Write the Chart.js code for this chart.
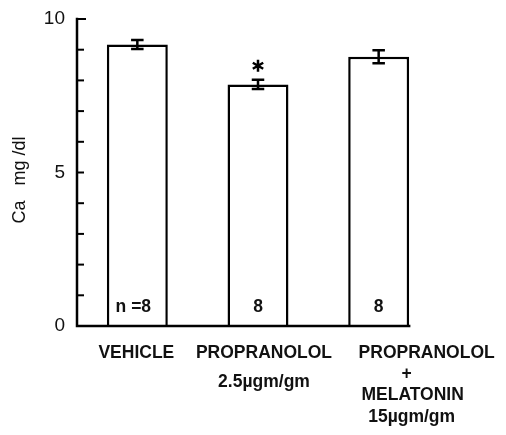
<!doctype html>
<html>
<head>
  <meta charset="utf-8" />
  <title>Ca mg/dl</title>
  <script src="https://cdn.jsdelivr.net/npm/chart.js@4.4.1/dist/chart.umd.min.js"></script>
  <style>
    html, body { margin:0; padding:0; background:#fff; }
    #wrap { width:506px; height:435px; }
  </style>
</head>
<body>
<div id="wrap"><canvas id="myChart"></canvas></div>

<script>
// data
const groups = [
  ["VEHICLE"],
  ["PROPRANOLOL", "2.5\u00b5gm/gm"],
  ["PROPRANOLOL", "+", "MELATONIN", "15\u00b5gm/gm"]
];
const caMean = [9.17, 7.87, 8.77];
const caSem  = [0.15, 0.15, 0.21];
const nLabels = ["n =8", "8", "8"];
const starred = [false, true, false];
const yTickLabels = { 0: "0", 5: "5", 10: "10" };

const ink = "#111";
const FONT = "'Liberation Sans', Arial, sans-serif";
// the typeset labels under the bars are not all centred on them
const lineNudge = [[-1], [6, 6], [48, 28, 34, 33]];
const lineStep = [21, 29, 21.3];

// axes with inward ticks, error bars, n labels, asterisk, category labels
const decor = {
  id: "decor",
  afterDatasetsDraw(chart) {
    const c = chart.ctx;
    const ys = chart.scales.y;
    const area = chart.chartArea;
    const bars = chart.getDatasetMeta(0).data;
    const last = bars[bars.length - 1];
    const x0 = area.left;
    const y0 = ys.getPixelForValue(0);
    c.save();
    c.strokeStyle = "#000";
    c.lineCap = "square";

    // axes
    c.lineWidth = 2.5;
    c.beginPath();
    c.moveTo(x0, ys.getPixelForValue(10));
    c.lineTo(x0, y0);
    c.lineTo(last.x + last.width / 2, y0);
    c.stroke();
    c.lineWidth = 2;
    for (let v = 1; v <= 10; v++) {
      const py = ys.getPixelForValue(v);
      c.beginPath();
      c.moveTo(x0, py);
      c.lineTo(x0 + (v == 10 ? 8 : 6), py);
      c.stroke();
    }

    bars.forEach((b, i) => {
      const top = ys.getPixelForValue(caMean[i] + caSem[i]);
      const bot = ys.getPixelForValue(caMean[i] - caSem[i]);
      c.lineWidth = 2.5;
      c.beginPath();
      c.moveTo(b.x, top); c.lineTo(b.x, bot);
      c.moveTo(b.x - 5, top); c.lineTo(b.x + 5, top);
      c.moveTo(b.x - 5, bot); c.lineTo(b.x + 5, bot);
      c.stroke();

      c.fillStyle = ink;
      c.font = "bold 17.5px " + FONT;
      c.textAlign = "center";
      c.textBaseline = "middle";
      c.fillText(nLabels[i], b.x - (i == 0 ? 4 : 0), ys.getPixelForValue(0.6));

      // category label lines
      groups[i].forEach((line, k) => {
        c.fillText(line, b.x + lineNudge[i][k], y0 + 27 + k * lineStep[i]);
      });

      if (starred[i]) {
        const cy = top - 14, r = 6;
        c.lineWidth = 2.5;
        c.lineCap = "butt";
        c.beginPath();
        for (let k = 0; k < 3; k++) {
          const a = Math.PI / 2 + k * Math.PI / 3;
          c.moveTo(b.x - r * Math.cos(a), cy - r * Math.sin(a));
          c.lineTo(b.x + r * Math.cos(a), cy + r * Math.sin(a));
        }
        c.stroke();
        c.lineCap = "square";
      }
    });
    c.restore();
  }
};

const ctx = "myChart";
var myChart = new Chart(ctx, {
  type: "bar",
  data: {
    labels: groups,
    datasets: [{
      data: caMean,
      backgroundColor: "#fff",
      borderColor: "#000",
      borderWidth: 2.5,
      barPercentage: 0.505,
      categoryPercentage: 1.0
    }]
  },
  options: {
    responsive: true,
    maintainAspectRatio: false,
    animation: false,
    layout: { padding: { left: 0, right: 67, top: 19, bottom: 0 } },
    plugins: {
      legend: { display: false },
      tooltip: { enabled: false }
    },
    scales: {
      x: {
        grid: { display: false, drawTicks: false },
        border: { display: false },
        ticks: { display: false },
        afterFit(s) { s.height = 109; s.paddingLeft = 0; s.paddingRight = 0; }
      },
      y: {
        min: 0,
        max: 10,
        grid: { display: false, drawTicks: false },
        border: { display: false },
        ticks: {
          stepSize: 1,
          color: ink,
          padding: 12,
          font: { family: FONT, size: 19 },
          callback: (v) => yTickLabels[v] ?? ""
        },
        title: {
          display: true,
          text: "Ca   mg /dl   ",
          color: ink,
          padding: { top: 9, bottom: 0 },
          font: { family: FONT, size: 18 }
        },
        afterFit(s) { s.width = 77; s.paddingTop = 0; s.paddingBottom = 0; }
      }
    }
  },
  plugins: [decor]
});
</script>
</body>
</html>
